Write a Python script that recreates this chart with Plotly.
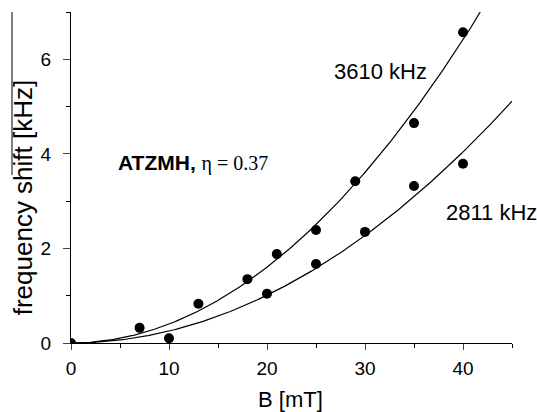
import numpy as np
import plotly.graph_objects as go

# data
b_3610 = [0, 7, 13, 18, 21, 25, 29, 35, 40]
shift_3610 = [0.0, 0.32, 0.83, 1.35, 1.88, 2.39, 3.42, 4.65, 6.57]
b_2811 = [10, 20, 25, 30, 35, 40]
shift_2811 = [0.10, 1.04, 1.67, 2.35, 3.32, 3.79]
x_ticks = [0, 10, 20, 30, 40]
y_ticks = [0, 2, 4, 6]


def quad_fit(b, s):
    b = np.asarray(b, float)
    s = np.asarray(s, float)
    return float(np.sum(s * b**2) / np.sum(b**4))


a1 = quad_fit(b_3610, shift_3610)
a2 = quad_fit(b_2811, shift_2811)
bb = np.linspace(0, 45, 300)

fig = go.Figure()
line = dict(color="black", width=1.2)
fig.add_trace(go.Scatter(x=bb, y=a1 * bb**2, mode="lines", line=line, hoverinfo="skip"))
fig.add_trace(go.Scatter(x=bb, y=a2 * bb**2, mode="lines", line=line, hoverinfo="skip"))
mk = dict(color="black", size=10)
fig.add_trace(go.Scatter(x=b_3610, y=shift_3610, mode="markers", marker=mk))
fig.add_trace(go.Scatter(x=b_2811, y=shift_2811, mode="markers", marker=mk))

tickfont = dict(family="Liberation Sans, Arial", size=19, color="black")
fig.update_xaxes(range=[0, 45], tickvals=x_ticks, ticks="outside", ticklen=6,
                 tickwidth=1.2, showline=True, linecolor="black", linewidth=1.2,
                 showgrid=False, zeroline=False, tickfont=tickfont,
                 minor=dict(dtick=5, ticks="outside", ticklen=4, tickwidth=1.2, tickcolor="black"),
                 ticklabelstandoff=2)
fig.update_yaxes(range=[0, 7], tickvals=y_ticks, ticks="outside", ticklen=7,
                 tickwidth=1.2, showline=True, linecolor="black", linewidth=1.2,
                 showgrid=False, zeroline=False, tickfont=tickfont,
                 minor=dict(dtick=1, ticks="outside", ticklen=4, tickwidth=1.2, tickcolor="black"),
                 ticklabelstandoff=8)

afont = dict(family="Liberation Sans, Arial", size=22, color="black")
fig.add_annotation(x=26.6, y=5.75, text="3610 kHz", showarrow=False, xanchor="left",
                   yanchor="middle", font=afont)
fig.add_annotation(x=38.1, y=2.77, text="2811 kHz", showarrow=False, xanchor="left",
                   yanchor="middle", font=afont)
fig.add_annotation(x=4.6, y=3.8, showarrow=False, xanchor="left", yanchor="middle",
                   text="<b>ATZMH,</b> <span style='font-family:Liberation Serif, Times New Roman; font-size:20px'>η = 0.37</span>",
                   font=dict(family="Liberation Sans, Arial", size=21, color="black"))
fig.add_annotation(xref="paper", yref="paper", x=0.4966, y=-0.172, text="B [mT]",
                   showarrow=False, xanchor="center", yanchor="middle", font=afont)
fig.add_annotation(xref="paper", yref="paper", x=-0.109, y=0.44, text="frequency shift [kHz]",
                   showarrow=False, xanchor="center", yanchor="middle", textangle=-90,
                   font=dict(family="Liberation Sans, Arial", size=26, color="black"))
fig.add_shape(type="line", xref="paper", yref="paper", x0=-0.1338, x1=-0.1338,
              y0=1.0, y1=0.5076, line=dict(color="black", width=1))

fig.update_layout(width=537, height=412, showlegend=False,
                  margin=dict(l=71, r=25, t=12, b=69),
                  paper_bgcolor="white", plot_bgcolor="white")
fig.write_html("out.html", config={"displayModeBar": False},
               post_script="document.body.style.margin='0';document.body.style.padding='0';")
